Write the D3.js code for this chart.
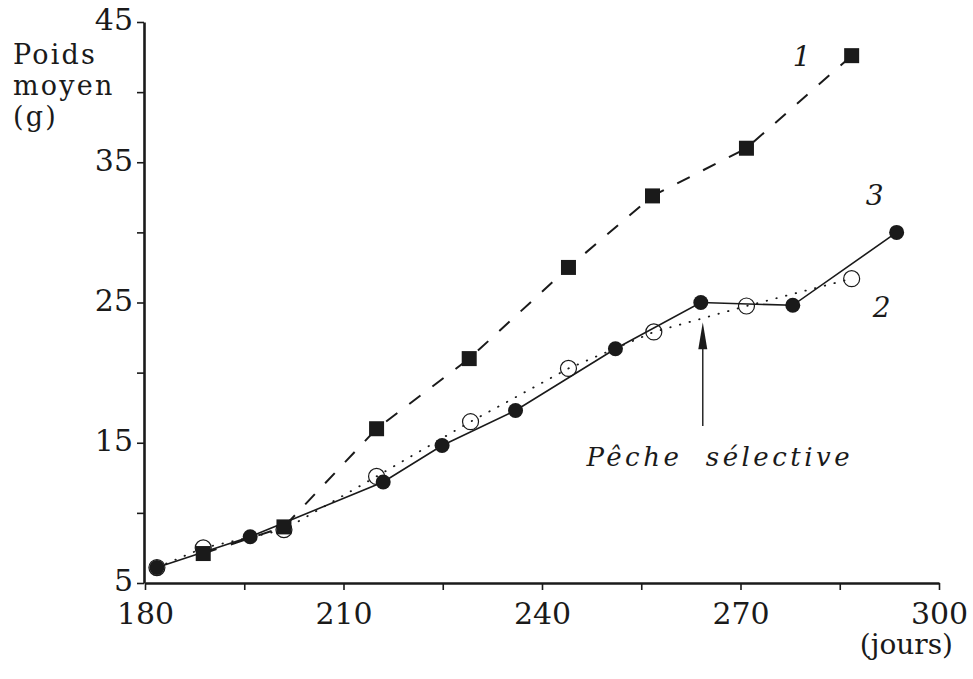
<!DOCTYPE html>
<html>
<head>
<meta charset="utf-8">
<script src="https://cdn.jsdelivr.net/npm/d3@7"></script>
<style>
  body { margin: 0; background: #fff; }
  svg text { fill: #1a1a1a; }
</style>
</head>
<body>
<svg id="chart" width="973" height="679"></svg>
<script>
// days (x) and mean weight in g (y)
var days1 = [188.8, 201.0, 215.0, 229.0, 244.0, 256.7, 270.9, 286.8];
var weight1 = [7.1, 9.0, 16.0, 21.0, 27.5, 32.6, 36.0, 42.6];

var days2 = [181.8, 188.8, 201.0, 215.0, 229.2, 244.0, 256.9, 270.9, 286.8];
var weight2 = [6.1, 7.5, 8.8, 12.6, 16.5, 20.3, 22.9, 24.75, 26.7];

var days3 = [181.8, 195.9, 216.0, 224.9, 236.0, 251.1, 264.0, 277.9, 293.6];
var weight3 = [6.1, 8.3, 12.2, 14.8, 17.3, 21.7, 25.0, 24.8, 30.0];

var xTicks = [180, 195, 210, 225, 240, 255, 270, 285, 300];
var xLabels = [180, 210, 240, 270, 300];
var yTicks = [5, 10, 15, 20, 25, 30, 35, 40, 45];
var yLabels = [5, 15, 25, 35, 45];

var fishingDay = 264.3;   // "Pêche sélective"

var ink = '#1a1a1a';
var svg = d3.select('#chart');

var x = d3.scaleLinear().domain([180, 300]).range([145, 939]);
var y = d3.scaleLinear().domain([5, 45]).range([583, 22]);

function zip(a, b) {
    return a.map(function (d, i) { return [d, b[i]]; });
}
var s1 = zip(days1, weight1),
    s2 = zip(days2, weight2),
    s3 = zip(days3, weight3);

var line = d3.line()
    .x(function (d) { return x(d[0]); })
    .y(function (d) { return y(d[1]); });

// axes
var xAxis = d3.axisBottom(x)
    .tickValues(xTicks)
    .tickSize(7)
    .tickSizeOuter(0)
    .tickPadding(13)
    .tickFormat(function (d) { return xLabels.indexOf(d) >= 0 ? d : ''; });

var yAxis = d3.axisLeft(y)
    .tickValues(yTicks)
    .tickSize(7)
    .tickSizeOuter(0)
    .tickPadding(4)
    .tickFormat(function (d) { return yLabels.indexOf(d) >= 0 ? d : ''; });

var gx = svg.append('g').attr('transform', 'translate(0,' + y(5) + ')').call(xAxis);
var gy = svg.append('g').attr('transform', 'translate(' + (x(180) - 1) + ',0)').call(yAxis);

[gx, gy].forEach(function (g) {
    g.select('.domain').attr('stroke', ink).attr('stroke-width', 2.6);
    g.selectAll('.tick line').attr('stroke', ink).attr('stroke-width', 1.6);
    g.selectAll('.tick text')
        .attr('fill', ink)
        .style('font-family', '"DejaVu Serif", serif')
        .style('font-size', '30px');
});
gy.selectAll('.tick text').attr('dy', '0.26em');

// axis titles
var ytitle = svg.append('text')
    .style('font-family', '"DejaVu Serif", serif')
    .style('font-size', '27px')
    .style('letter-spacing', '2.2px');
['Poids', 'moyen', '(g)'].forEach(function (t, i) {
    ytitle.append('tspan').attr('x', 13).attr('y', 64 + i * 31).text(t);
});

svg.append('text')
    .attr('x', 953)
    .attr('y', 654)
    .attr('text-anchor', 'end')
    .style('font-family', '"DejaVu Serif", serif')
    .style('font-size', '28px')
    .text('(jours)');

// lines
svg.append('path').datum(s2)
    .attr('d', line)
    .attr('fill', 'none')
    .attr('stroke', ink)
    .attr('stroke-width', 1.8)
    .attr('stroke-linecap', 'round')
    .attr('stroke-dasharray', '0.5,9.5');

svg.append('path').datum(s1)
    .attr('d', line)
    .attr('fill', 'none')
    .attr('stroke', ink)
    .attr('stroke-width', 2)
    .attr('stroke-dasharray', '14,15');

svg.append('path').datum(s3)
    .attr('d', line)
    .attr('fill', 'none')
    .attr('stroke', ink)
    .attr('stroke-width', 1.6);

// markers
svg.selectAll('circle.open')
    .data(s2).enter()
    .append('circle')
    .attr('class', 'open')
    .attr('cx', function (d) { return x(d[0]); })
    .attr('cy', function (d) { return y(d[1]); })
    .attr('r', 8)
    .attr('fill', 'none')
    .attr('stroke', ink)
    .attr('stroke-width', 1.2);

var sq = 15;
svg.selectAll('rect.sq')
    .data(s1).enter()
    .append('rect')
    .attr('class', 'sq')
    .attr('x', function (d) { return x(d[0]) - sq / 2; })
    .attr('y', function (d) { return y(d[1]) - sq / 2; })
    .attr('width', sq)
    .attr('height', sq)
    .attr('fill', ink);

svg.selectAll('circle.fill')
    .data(s3).enter()
    .append('circle')
    .attr('class', 'fill')
    .attr('cx', function (d) { return x(d[0]); })
    .attr('cy', function (d) { return y(d[1]); })
    .attr('r', 7.5)
    .attr('fill', ink);

// series numbers
var last1 = s1[s1.length - 1], last2 = s2[s2.length - 1], last3 = s3[s3.length - 1];
var numFont = function (sel) {
    sel.style('font-family', '"DejaVu Serif", serif')
        .style('font-style', 'italic')
        .style('font-size', '28px')
        .attr('text-anchor', 'middle');
};
svg.append('text').call(numFont).attr('x', x(last1[0]) - 50).attr('y', y(last1[1]) + 10).text('1');
svg.append('text').call(numFont).attr('x', x(last2[0]) + 30).attr('y', y(last2[1]) + 38).text('2');
svg.append('text').call(numFont).attr('x', x(last3[0]) - 22).attr('y', y(last3[1]) - 27).text('3');

// selective fishing annotation
var ax = x(fishingDay);
svg.append('line')
    .attr('x1', ax).attr('x2', ax)
    .attr('y1', y(16.2)).attr('y2', y(22.6))
    .attr('stroke', ink)
    .attr('stroke-width', 1.4);
svg.append('path')
    .attr('d', 'M' + ax + ',' + y(23.6) + 'L' + (ax - 4.5) + ',' + (y(23.6) + 27) + 'L' + (ax + 4.5) + ',' + (y(23.6) + 27) + 'Z')
    .attr('fill', ink);

svg.append('text')
    .attr('x', ax + 17)
    .attr('y', 466)
    .attr('text-anchor', 'middle')
    .style('font-family', '"DejaVu Serif", serif')
    .style('font-style', 'italic')
    .style('font-size', '26px')
    .style('letter-spacing', '3.5px')
    .attr('xml:space', 'preserve')
    .text('Pêche  sélective');
</script>
</body>
</html>
